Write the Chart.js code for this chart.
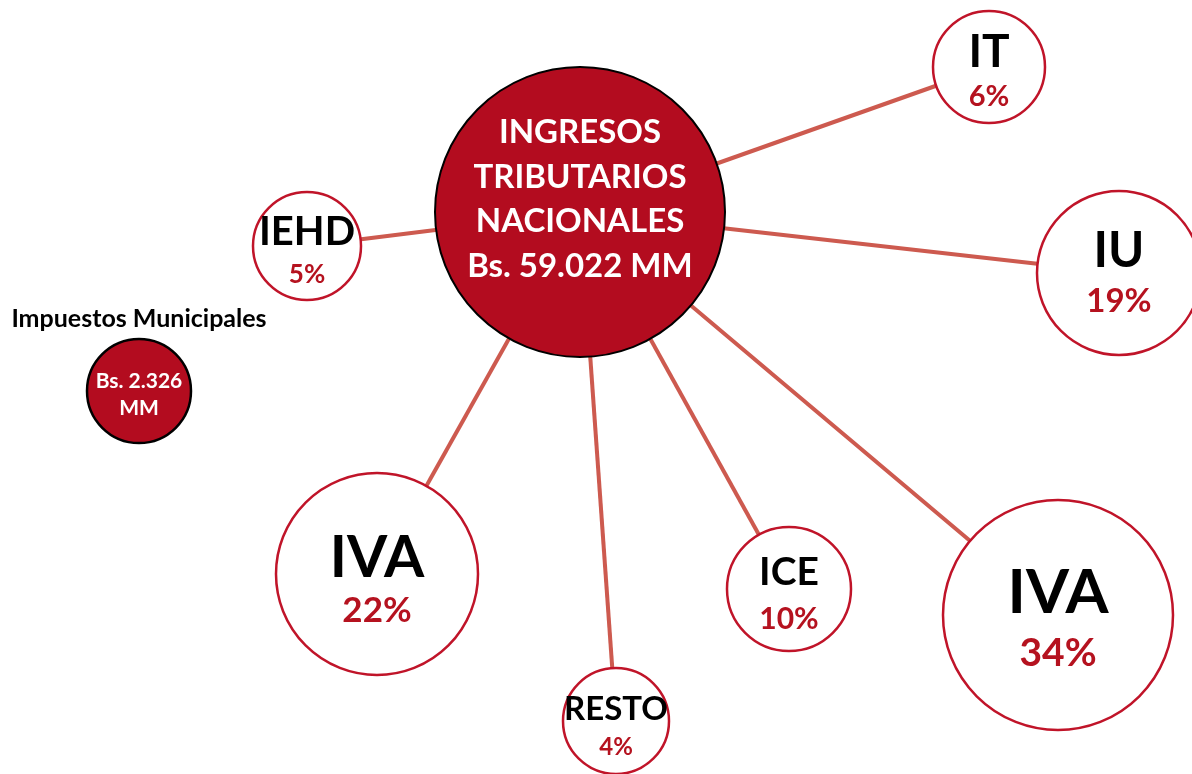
<!DOCTYPE html>
<html>
<head>
<meta charset="utf-8">
<script src="https://cdn.jsdelivr.net/npm/chart.js@4/dist/chart.umd.min.js"></script>
<style>
  html, body { margin: 0; padding: 0; background: #fff; }
  #wrap { width: 1192px; height: 774px; }
</style>
</head>
<body>
<div id="wrap"><canvas id="chart" width="1192" height="774"></canvas></div>
<script>
// hub bubble
const hubLabel = ['INGRESOS', 'TRIBUTARIOS', 'NACIONALES', 'Bs. 59.022 MM'];
const hubPos = { x: 580, y: 212, r: 145 };

// tax components (share of national tax revenue)
const taxNames = ['IT', 'IU', 'IEHD', 'IVA', 'RESTO', 'ICE', 'IVA'];
const taxShares = [6, 19, 5, 22, 4, 10, 34];
const taxX = [989, 1119, 307, 377, 616, 789, 1058];
const taxY = [67, 273, 246, 574, 721, 589, 615];
const taxR = [56, 82, 54, 101, 53, 62, 115];

// municipal taxes (separate bubble)
const muniTitle = 'Impuestos Municipales';
const muniLabel = ['Bs. 2.326', 'MM'];
const muniPos = { x: 139, y: 391, r: 52 };

// text styles per tax bubble: [label size, label baseline offset, pct size, pct baseline offset]
const taxText = [
  [46, 0, 29, 39],
  [49, -6, 33, 39],
  [40, -1, 26, 37],
  [58, 3, 35, 48],
  [33, -1, 24, 34],
  [39, -4, 30, 40],
  [62, -2, 39, 51]
];

const FONT = 'Lato, "Open Sans", sans-serif';
const DARK_RED = '#b30c1f';
const RING = '#c01429';
const SPOKE = '#cd5a4f';

const spokes = taxNames.map((n, i) => ({
  type: 'line',
  data: [{ x: hubPos.x, y: hubPos.y }, { x: taxX[i], y: taxY[i] }],
  borderColor: SPOKE,
  borderWidth: 4,
  pointRadius: 0,
  order: 5
}));

const labelPlugin = {
  id: 'bubbleLabels',
  afterDatasetsDraw(chart) {
    const ctx = chart.ctx;
    ctx.save();
    ctx.textAlign = 'center';
    ctx.textBaseline = 'alphabetic';

    // hub text
    const hub = chart.getDatasetMeta(0).data[0];
    ctx.fillStyle = '#fff';
    ctx.font = 'bold 33px ' + FONT;
    hubLabel.forEach((t, i) => ctx.fillText(t, hub.x, hub.y - 69 + i * 44.7));

    // tax bubbles
    chart.getDatasetMeta(1).data.forEach((el, i) => {
      const s = taxText[i];
      ctx.fillStyle = '#000';
      ctx.font = 'bold ' + s[0] + 'px ' + FONT;
      ctx.fillText(taxNames[i], el.x, el.y + s[1]);
      ctx.fillStyle = '#b5121f';
      ctx.font = 'bold ' + s[2] + 'px ' + FONT;
      ctx.fillText(taxShares[i] + '%', el.x, el.y + s[3]);
    });

    // municipal bubble
    const m = chart.getDatasetMeta(2).data[0];
    ctx.fillStyle = '#000';
    ctx.font = 'bold 25px ' + FONT;
    ctx.fillText(muniTitle, m.x, m.y - 64);
    ctx.fillStyle = '#fff';
    ctx.font = 'bold 21px ' + FONT;
    ctx.fillText(muniLabel[0], m.x, m.y - 3);
    ctx.fillText(muniLabel[1], m.x, m.y + 24);
    ctx.restore();
  }
};

new Chart(document.getElementById('chart'), {
  type: 'bubble',
  data: {
    datasets: [
      {
        data: [hubPos],
        backgroundColor: DARK_RED,
        borderColor: '#000',
        borderWidth: 2,
        hoverRadius: 0,
        order: 0
      },
      {
        data: taxNames.map((n, i) => ({ x: taxX[i], y: taxY[i], r: taxR[i] })),
        backgroundColor: '#fff',
        borderColor: RING,
        borderWidth: 2.5,
        hoverRadius: 0,
        order: 1
      },
      {
        data: [muniPos],
        backgroundColor: DARK_RED,
        borderColor: '#000',
        borderWidth: 2.5,
        hoverRadius: 0,
        order: 2
      },
      ...spokes
    ]
  },
  options: {
    responsive: false,
    animation: false,
    layout: { padding: 0, autoPadding: false },
    clip: false,
    plugins: { legend: { display: false }, tooltip: { enabled: false } },
    scales: {
      x: { type: 'linear', min: 0, max: 1192, display: false },
      y: { type: 'linear', min: 0, max: 774, reverse: true, display: false }
    }
  },
  plugins: [labelPlugin]
});
</script>
</body>
</html>
